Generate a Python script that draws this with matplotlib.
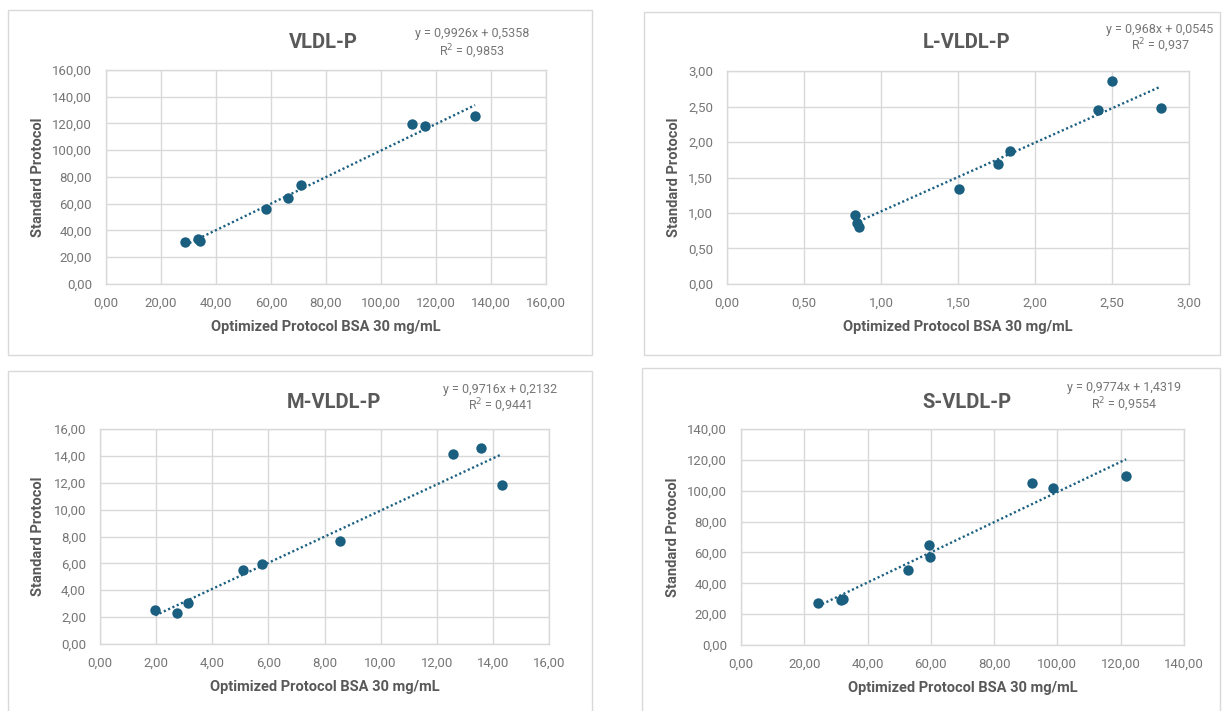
import matplotlib
matplotlib.use("Agg")
import matplotlib.pyplot as plt
from matplotlib.patches import Rectangle
from matplotlib.ticker import FuncFormatter, MultipleLocator
import numpy as np

plt.rcParams['font.family'] = ['Roboto', 'DejaVu Sans']

# ---------------- data ----------------
titles = ["VLDL-P", "L-VLDL-P", "M-VLDL-P", "S-VLDL-P"]

vldl_x = [28.8, 33.6, 34.3, 58.3, 66.1, 70.8, 111.3, 116.1, 134.2]
vldl_y = [31.1, 33.5, 32.0, 55.9, 64.1, 74.0, 119.8, 118.5, 125.5]

lvldl_x = [0.83, 0.845, 0.86, 1.505, 1.76, 1.835, 2.41, 2.50, 2.815]
lvldl_y = [0.97, 0.865, 0.80, 1.34, 1.685, 1.875, 2.45, 2.855, 2.48]

mvldl_x = [1.97, 2.76, 3.14, 5.10, 5.79, 8.54, 12.57, 13.59, 14.33]
mvldl_y = [2.50, 2.31, 3.05, 5.48, 5.93, 7.64, 14.14, 14.57, 11.86]

svldl_x = [24.3, 31.7, 32.3, 52.9, 59.5, 59.8, 92.0, 98.7, 121.7]
svldl_y = [27.0, 29.4, 29.8, 48.6, 64.8, 57.0, 105.0, 102.0, 109.5]

slopes = [0.9926, 0.968, 0.9716, 0.9774]
intercepts = [0.5358, 0.0545, 0.2132, 1.4319]
eq_texts = ["y = 0,9926x + 0,5358", "y = 0,968x + 0,0545",
            "y = 0,9716x + 0,2132", "y = 0,9774x + 1,4319"]
r2_texts = ["R$^2$ = 0,9853", "R$^2$ = 0,937", "R$^2$ = 0,9441", "R$^2$ = 0,9554"]

axis_max = [160, 3.0, 16, 140]
axis_step = [20, 0.5, 2, 20]

xlabel = "Optimized Protocol BSA 30 mg/mL"
ylabel = "Standard Protocol"

series_x = [vldl_x, lvldl_x, mvldl_x, svldl_x]
series_y = [vldl_y, lvldl_y, mvldl_y, svldl_y]

# ---------------- layout (pixels, top-left origin) ----------------
W, H = 1228, 711
boxes = [(8, 10, 592, 355), (644, 12, 1220, 355), (8, 371, 592, 730), (642, 368, 1220, 730)]
plots = [(106, 70, 546, 284), (727, 71, 1189, 284), (100, 429, 549, 644), (741, 429, 1184, 645)]
title_pos = [(323, 43), (967, 43), (334, 403), (967, 402)]
eq_pos = [(472, 34, 52), (1160, 30, 46), (500, 389, 406), (1124, 388, 405)]
ylab_x = [38, 674, 38, 673]

MARK = "#1B5F80"
GRID = "#D9D9D9"
TICKC = "#767676"
LABC = "#595959"

fig = plt.figure(figsize=(W / 100, H / 100), dpi=100)
fig.patch.set_facecolor("white")

def fx(x):
    return x / W

def fy(y):
    return 1 - y / H

def fmt(v, pos):
    return ("%.2f" % v).replace(".", ",")

for i in range(4):
    bx0, by0, bx1, by1 = boxes[i]
    fig.patches.append(Rectangle((fx(bx0), fy(by1)), fx(bx1) - fx(bx0), fy(by0) - fy(by1),
                                 transform=fig.transFigure, facecolor="white",
                                 edgecolor=GRID, linewidth=1.0, zorder=-5))
    px0, py0, px1, py1 = plots[i]
    ax = fig.add_axes([fx(px0), fy(py1), fx(px1) - fx(px0), fy(py0) - fy(py1)])
    ax.set_zorder(2)
    ax.patch.set_alpha(0)
    ax.set_xlim(0, axis_max[i])
    ax.set_ylim(0, axis_max[i])
    ax.xaxis.set_major_locator(MultipleLocator(axis_step[i]))
    ax.yaxis.set_major_locator(MultipleLocator(axis_step[i]))
    ax.xaxis.set_major_formatter(FuncFormatter(fmt))
    ax.yaxis.set_major_formatter(FuncFormatter(fmt))
    ax.grid(True, color=GRID, linewidth=1.0)
    ax.set_axisbelow(True)
    for s in ax.spines.values():
        s.set_color(GRID)
        s.set_linewidth(1.0)
    ax.tick_params(length=0, labelsize=9.5, colors=TICKC, pad=9)
    ax.tick_params(axis='y', pad=10)

    xs = np.array(series_x[i])
    ys = np.array(series_y[i])
    ax.scatter(xs, ys, s=56, color=MARK, zorder=3, linewidths=0)
    tx = np.array([xs.min(), xs.max()])
    ax.plot(tx, slopes[i] * tx + intercepts[i], color=MARK, linewidth=1.7,
            linestyle=(0, (0.9, 1.1)), zorder=2)

    fig.text(fx(title_pos[i][0]), fy(title_pos[i][1]), titles[i], ha="center", va="center",
             fontsize=14.5, fontweight="bold", color=LABC)
    fig.text(fx(eq_pos[i][0]), fy(eq_pos[i][1]), eq_texts[i], ha="center", va="center",
             fontsize=9, color=TICKC)
    fig.text(fx(eq_pos[i][0]), fy(eq_pos[i][2]), r2_texts[i], ha="center", va="center",
             fontsize=9, color=TICKC)
    fig.text(fx((px0 + px1) / 2), fy(py1 + 43), xlabel, ha="center", va="center",
             fontsize=10.5, fontweight="bold", color=LABC)
    fig.text(fx(ylab_x[i]), fy((py0 + py1) / 2), ylabel, ha="center", va="center",
             rotation=90, fontsize=10.5, fontweight="bold", color=LABC)

fig.savefig("out.png", dpi=100, facecolor="white")
